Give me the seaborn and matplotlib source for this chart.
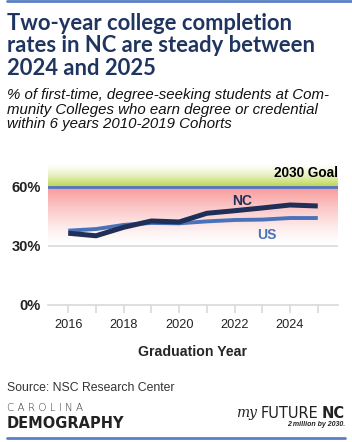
import numpy as np
import pandas as pd
import matplotlib
matplotlib.use("Agg")
import matplotlib.pyplot as plt
from matplotlib.ticker import FixedLocator
import seaborn as sns

years = [2016, 2017, 2018, 2019, 2020, 2021, 2022, 2023, 2024, 2025]
nc_rates = [36.4, 35.1, 39.4, 42.6, 42.1, 46.5, 47.8, 49.2, 50.7, 50.2]
us_rates = [37.7, 38.5, 40.6, 41.6, 41.4, 42.4, 43.1, 43.3, 44.1, 44.1]
goal = 60
y_ticks = [0, 30, 60]
y_tick_labels = ["0%", "30%", "60%"]
x_ticks = [2016, 2018, 2020, 2022, 2024]

df = pd.DataFrame({
    "year": years * 2,
    "rate": nc_rates + us_rates,
    "series": ["NC"] * len(years) + ["US"] * len(years),
})

sns.set_theme(style="white")
plt.rcParams['font.family'] = ['Liberation Sans', 'DejaVu Sans']

W, H = 352, 442
fig = plt.figure(figsize=(W / 100, H / 100), dpi=100)
fig.patch.set_facecolor("white")

def fx(px):
    return px / W

def fy(py):
    return 1 - py / H

ax = fig.add_axes([fx(48), fy(305), fx(338) - fx(48), (305 - 162) / H])
xmin, xmax = 2015.27, 2025.73
ymax = 72.5
ax.set_xlim(xmin, xmax)
ax.set_ylim(0, ymax)

# gradient bands
n = 256
green = np.zeros((n, 1, 4))
green[..., 0] = 0.72
green[..., 1] = 0.84
green[..., 2] = 0.28
green[:, 0, 3] = np.linspace(0, 1.0, n) ** 1.6  # top row transparent (origin upper)
ax.imshow(green, extent=[xmin, xmax, goal, ymax], aspect="auto", zorder=0, origin="upper",
          interpolation="bilinear")

red = np.zeros((n, 1, 4))
red[..., 0] = 0.97
red[..., 1] = 0.50
red[..., 2] = 0.50
red[:, 0, 3] = np.linspace(0.85, 0, n) ** 1.3
ax.imshow(red, extent=[xmin, xmax, 31, goal], aspect="auto", zorder=0, origin="upper",
          interpolation="bilinear")

ax.axhline(30, color="#d9d9d9", lw=1.2, zorder=0.5)
ax.axhline(goal, color="#4f77c3", lw=2.0, zorder=1)

sns.lineplot(data=df, x="year", y="rate", hue="series",
             palette={"NC": "#1f2f57", "US": "#4a72b8"},
             hue_order=["US", "NC"], legend=False, ax=ax,
             linewidth=3.0, zorder=3)
for line, lw in zip(ax.get_lines()[-2:], [2.8, 3.6]):
    line.set_linewidth(lw)
    line.set_solid_capstyle("butt")

ax.text(2022.27, 52.9, "NC", color="#1f2f57", fontsize=10, fontweight="bold",
        ha="center", va="center")
ax.text(2023.16, 35.5, "US", color="#4a72b8", fontsize=10, fontweight="bold",
        ha="center", va="center")
ax.text(xmax, 66.8, "2030 Goal", color="black", fontsize=9.8, fontweight="bold",
        ha="right", va="center")

for s in ["top", "right", "left"]:
    ax.spines[s].set_visible(False)
ax.spines["bottom"].set_color("#d9d9d9")
ax.spines["bottom"].set_linewidth(1.2)

ax.set_yticks(y_ticks)
ax.set_yticklabels(y_tick_labels, fontsize=10.5, fontweight="bold", color="#222222")
ax.tick_params(axis="y", length=0, pad=5)
ax.set_xticks(x_ticks)
ax.set_xticklabels([str(x) for x in x_ticks], fontsize=9.2, color="#222222")
ax.xaxis.set_minor_locator(FixedLocator(years))
ax.tick_params(axis="x", which="both", length=6, color="#d9d9d9", width=1.2,
               bottom=True, pad=4)
ax.set_xlabel("Graduation Year", fontsize=10.2, fontweight="bold", labelpad=10)
ax.set_ylabel("")

# header / footer rules
fig.add_artist(plt.Line2D([fx(7), 1], [fy(1), fy(1)], color="#5a7fc4", lw=2))
fig.add_artist(plt.Line2D([fx(7), fx(345)], [fy(438), fy(438)], color="#5a7fc4", lw=2))

fig.text(fx(7), fy(13), "Two-year college completion\nrates in NC are steady between\n2024 and 2025",
         fontsize=15.8, fontweight="bold", color="#1f3560", ha="left", va="top",
         linespacing=1.08, family=["Lato", "DejaVu Sans"])
fig.text(fx(7), fy(88), "% of first-time, degree-seeking students at Com-\nmunity Colleges who earn degree or credential\nwithin 6 years 2010-2019 Cohorts",
         fontsize=10.8, fontstyle="italic", color="#111111", ha="left", va="top",
         linespacing=1.05)

fig.text(fx(7), fy(388), "Source: NSC Research Center", fontsize=8.8, color="#333333",
         ha="left", va="center")
fig.text(fx(7), fy(408), "C A R O L I N A", fontsize=7.5, color="#333333", ha="left", va="center",
         family=["DejaVu Sans"], fontweight="light")
fig.text(fx(7), fy(423), "DEMOGRAPHY", fontsize=10.5, color="#222222", ha="left", va="center",
         family=["DejaVu Sans"], fontweight="bold")
fig.text(fx(236), fy(413), "my", fontsize=10, color="#222222", ha="left", va="center",
         fontstyle="italic", family=["DejaVu Serif"])
fig.text(fx(318), fy(413), "FUTURE", fontsize=10.5, color="#222222", ha="right", va="center",
         family=["DejaVu Sans"])
fig.text(fx(345), fy(413), "NC", fontsize=10.5, color="#222222", ha="right", va="center",
         fontweight="bold", family=["DejaVu Sans"])
fig.text(fx(345), fy(424), "2 million by 2030.", fontsize=5, color="#222222", ha="right",
         va="center", fontstyle="italic", fontweight="bold")

fig.savefig("out.png", dpi=100, facecolor="white")
